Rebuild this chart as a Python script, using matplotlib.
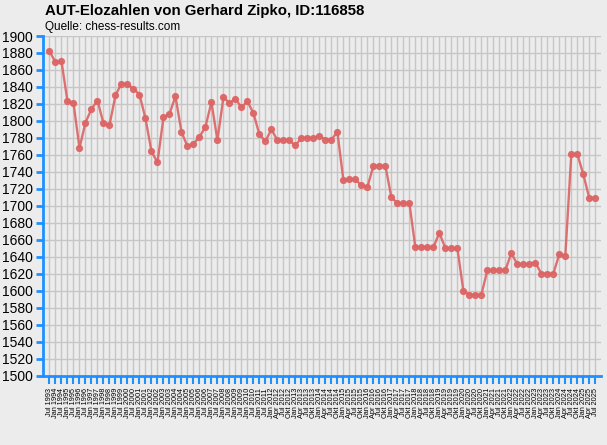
import matplotlib
matplotlib.use("Agg")
import matplotlib.pyplot as plt

# Elo-Werte
elo = [1882, 1869, 1870, 1823, 1821, 1768, 1798, 1814, 1824, 1797,
       1795, 1830, 1844, 1843, 1838, 1831, 1803, 1764, 1751, 1804,
       1808, 1829, 1787, 1770, 1773, 1781, 1793, 1822, 1777, 1828,
       1821, 1826, 1816, 1823, 1809, 1784, 1776, 1790, 1777, 1777,
       1777, 1771, 1780, 1780, 1780, 1782, 1778, 1778, 1787, 1730,
       1731, 1731, 1724, 1722, 1747, 1747, 1747, 1710, 1703, 1703,
       1703, 1651, 1651, 1651, 1651, 1668, 1650, 1650, 1650, 1600,
       1595, 1595, 1595, 1624, 1624, 1624, 1624, 1644, 1631, 1631,
       1631, 1633, 1620, 1620, 1620, 1643, 1641, 1761, 1761, 1737,
       1709, 1709]

monate = ["Jul 1993", "Jan 1994", "Jul 1994", "Jan 1995", "Jul 1995", "Jan 1996",
          "Jul 1996", "Jan 1997", "Jul 1997", "Jan 1998", "Jul 1998", "Jan 1999",
          "Jul 1999", "Jan 2000", "Jul 2000", "Jan 2001", "Jul 2001", "Jan 2002",
          "Jul 2002", "Jan 2003", "Jul 2003", "Jan 2004", "Jul 2004", "Jan 2005",
          "Jul 2005", "Jan 2006", "Jul 2006", "Jan 2007", "Jul 2007", "Jan 2008",
          "Jul 2008", "Jan 2009", "Jul 2009", "Jan 2010", "Jul 2010", "Jan 2011",
          "Jul 2011", "Jan 2012",
          "Apr 2012", "Jul 2012", "Okt 2012",
          "Jan 2013", "Apr 2013", "Jul 2013", "Okt 2013",
          "Jan 2014", "Apr 2014", "Jul 2014", "Okt 2014",
          "Jan 2015", "Apr 2015", "Jul 2015", "Okt 2015",
          "Jan 2016", "Apr 2016", "Jul 2016", "Okt 2016",
          "Jan 2017", "Apr 2017", "Jul 2017", "Okt 2017",
          "Jan 2018", "Apr 2018", "Jul 2018", "Okt 2018",
          "Jan 2019", "Apr 2019", "Jul 2019", "Okt 2019",
          "Jan 2020", "Apr 2020", "Jul 2020", "Okt 2020",
          "Jan 2021", "Apr 2021", "Jul 2021", "Okt 2021",
          "Jan 2022", "Apr 2022", "Jul 2022", "Okt 2022",
          "Jan 2023", "Apr 2023", "Jul 2023", "Okt 2023",
          "Jan 2024", "Apr 2024", "Jul 2024", "Okt 2024",
          "Jan 2025", "Apr 2025", "Jul 2025"]

y_ticks = list(range(1500, 1901, 20))

bg = "#ececec"
blau = "#1e90ff"
rot = "#dc6464"

plt.rcParams["font.family"] = ["Liberation Sans", "DejaVu Sans"]

fig = plt.figure(figsize=(6.07, 4.45), dpi=100, facecolor=bg)
ax = fig.add_axes([42.5 / 607, 1 - 375.5 / 445, (601.3 - 42.5) / 607, (375.5 - 36) / 445])
ax.set_facecolor(bg)

x = list(range(len(elo)))
ax.plot(x, elo, color=rot, lw=1.7, alpha=0.9, marker="o", ms=4.2,
        markerfacecolor=rot, markeredgecolor=rot, zorder=3)

ax.set_xlim(-7 / 6, len(elo))
ax.set_ylim(1500, 1900)
ax.set_yticks(y_ticks)
ax.set_yticklabels([str(v) for v in y_ticks], fontsize=10)
ax.set_xticks(x)
ax.set_xticklabels(monate, rotation=90, fontsize=5.3)

ax.grid(True, color="#c6c6c6", lw=1.0, zorder=0)
ax.set_axisbelow(True)

for s in ["top", "right"]:
    ax.spines[s].set_visible(False)
for s in ["left", "bottom"]:
    ax.spines[s].set_color(blau)
    ax.spines[s].set_linewidth(2)

ax.tick_params(axis="y", colors=blau, length=5, width=2, pad=2, labelcolor="black")
ax.tick_params(axis="x", colors=blau, length=6, width=1.5, pad=3, labelcolor="black")

fig.text(45 / 607, 1 - 11 / 445, "AUT-Elozahlen von Gerhard Zipko, ID:116858",
         fontsize=10.8, fontweight="bold", va="center", ha="left")
fig.text(45 / 607, 1 - 27 / 445, "Quelle: chess-results.com",
         fontsize=8.5, va="center", ha="left")

fig.savefig("out.png", dpi=100, facecolor=bg)
